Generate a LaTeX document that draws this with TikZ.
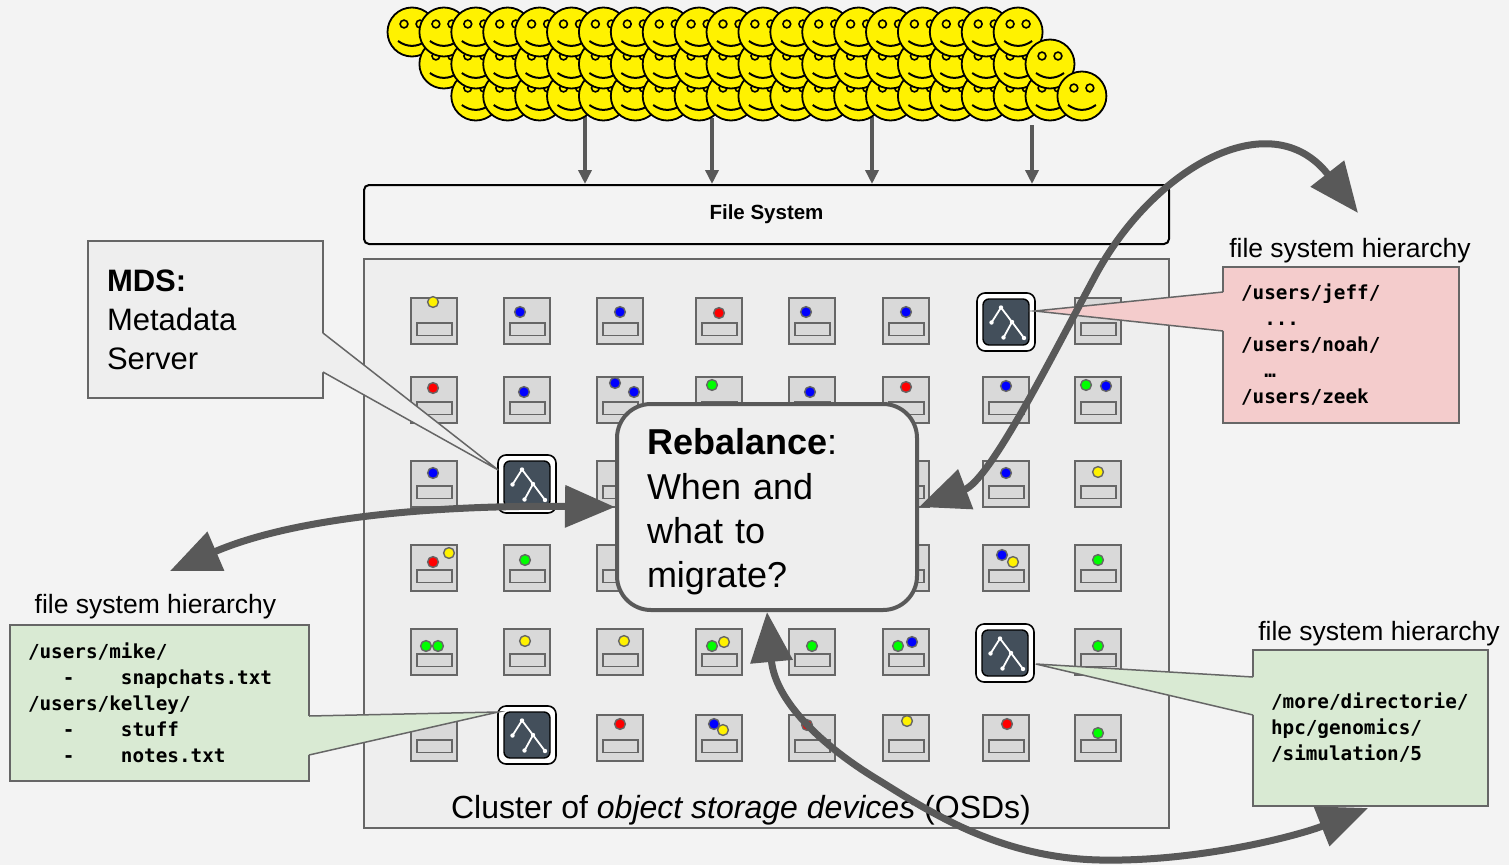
\documentclass[tikz,border=0pt]{standalone}
\usepackage{fontspec}
\usepackage{tikz}
\usepackage{xcolor}
\usetikzlibrary{arrows.meta,positioning,calc}

\setmainfont{Liberation Sans}
\newfontfamily\pathfont{DejaVu Sans Mono}
\newcommand{\fsz}[2]{\fontsize{#1}{#2}\selectfont}

\definecolor{bggray}{HTML}{F3F3F3}
\definecolor{panel}{HTML}{EEEEEE}
\definecolor{edge}{HTML}{666666}
\definecolor{disk}{HTML}{D9D9D9}
\definecolor{slate}{HTML}{434F5B}
\definecolor{pinkbox}{HTML}{F4CCCC}
\definecolor{greenbox}{HTML}{D9EAD3}
\definecolor{arrowgray}{HTML}{595959}

\begin{document}
\begin{tikzpicture}[x=1pt,y=-1pt,
  face/.style={circle,draw,line width=1.8pt,fill=yellow,minimum size=49pt,inner sep=0pt},
  osd/.style={draw=edge,line width=1.5pt,fill=disk,minimum size=46pt,inner sep=0pt},
  slot/.style={draw=edge,line width=1.5pt,fill=disk},
  dot/.style={draw=edge,line width=1.4pt},
  mds/.style={draw,line width=1.6pt,fill=white,rounded corners=8pt,minimum size=58pt,inner sep=0pt},
  note/.style={draw=edge,line width=1.5pt,align=left,anchor=north west,inner ysep=0pt,outer sep=0pt},
  hier/.style={font=\fsz{26.5}{30},inner sep=0pt},
  flow/.style={arrowgray,line width=3.8pt,-{Triangle[length=14pt,width=13pt]}},
  bigarrow/.style={arrowgray,line width=7pt,{Triangle[length=50pt,width=41pt]}-{Triangle[length=50pt,width=41pt]}}]

  \fill[bggray] (0,0) rectangle (1509,865);
  \useasboundingbox (0,0) rectangle (1509,865);

  % cluster of OSDs
  \node[draw=edge,line width=1.5pt,fill=panel,minimum width=805pt,minimum height=569pt] (cluster) at (766.5,543.5) {};
  \foreach \r/\y/\cols in {1/321/{1,2,3,4,5,6,8}, 2/400/{1,2,3,4,5,6,7,8}, 3/484/{1,3,6,7,8},
                           4/568/{1,2,3,6,7,8}, 5/652/{1,2,3,4,5,6,8}, 6/738/{1,3,4,5,6,7,8}}{
    \foreach \c in \cols {
      \pgfmathsetmacro{\x}{{434,527,620,719,812,906,1006,1098}[\c-1]}
      \node[osd] (d\r-\c) at (\x,\y) {};
      \draw[slot] ($(d\r-\c)+(-17,2)$) rectangle ++(35,12.5);
    }
  }
  % objects stored on each device
  \foreach \r/\c/\col/\dx/\dy in {
    1/1/yellow/-1/-19, 1/2/blue/-7/-9, 1/3/blue/0/-9, 1/4/red/0/-8, 1/5/blue/-6/-9, 1/6/blue/0/-9,
    2/1/red/-1/-12, 2/2/blue/-3/-8, 2/3/blue/-5/-17, 2/3/blue/14/-8, 2/4/green/-7/-15, 2/5/blue/-2/-8,
    2/6/red/0/-13, 2/7/blue/0/-14, 2/8/green/-12/-15, 2/8/blue/8/-14,
    3/1/blue/-1/-11, 3/7/blue/0/-11, 3/8/yellow/0/-12,
    4/1/red/-1/-6, 4/1/yellow/15/-15, 4/2/green/-2/-8, 4/7/blue/-4/-13, 4/7/yellow/7/-6, 4/8/green/0/-8,
    5/1/green/-8/-6, 5/1/green/4/-6, 5/2/yellow/-2/-11, 5/3/yellow/4/-11, 5/4/green/-7/-6, 5/4/yellow/5/-10,
    5/5/green/0/-6, 5/6/green/-8/-6, 5/6/blue/6/-10, 5/8/green/0/-6,
    6/3/red/0/-14, 6/4/blue/-5/-14, 6/4/yellow/4/-8, 6/5/red/-5/-13, 6/6/yellow/1/-17, 6/7/red/1/-14, 6/8/green/0/-5}
    \filldraw[dot,fill=\col] ($(d\r-\c)+(\dx,\dy)$) circle (5.4pt);

  % metadata servers
  \foreach \n/\x/\y in {m1/1006/322, m2/527/484, m3/1005/653, m4/527/735}{
    \node[mds] (\n) at (\x,\y) {};
    \begin{scope}[shift={(\n)}]
      \draw[fill=slate,line width=1.4pt,rounded corners=6pt] (-23,-23) rectangle (23,23);
      \draw[white,line width=1.8pt] (-14.5,0.5) -- (-5,-14.5) -- (6,0) -- (-2.5,15.5) (6,0) -- (18,16);
      \foreach \p in {(-14.5,0.5),(-5,-14.5),(6,0),(-2.5,15.5),(18,16)} \fill[white] \p circle (2.2pt);
    \end{scope}
  }

  % callouts
  \node[note,fill=panel,inner xsep=19pt,text width=197pt,minimum width=235pt,minimum height=157pt,
        font=\fsz{31}{39}] (mdsnote) at (88,241) {\textbf{MDS:}\\Metadata\\Server};
  \fill[panel] ($(mdsnote.north east)+(-1,92)$) -- ($(m2.west)+(1,-14)$) -- ($(mdsnote.north east)+(-1,131)$) -- cycle;
  \draw[edge,line width=1.5pt] ($(mdsnote.north east)+(0,92)$) -- ($(m2.west)+(1,-14)$) -- ($(mdsnote.north east)+(0,131)$);

  \node[note,fill=pinkbox,inner xsep=18pt,text width=200pt,minimum width=236pt,minimum height=156pt,
        font=\pathfont\bfseries\fsz{19.3}{26}] (jeffnote) at (1223,267)
        {/users/jeff/\\\hphantom{xx}...\\/users/noah/\\\hphantom{xx}…\\/users/zeek};
  \fill[pinkbox] ($(jeffnote.north west)+(1,25)$) -- ($(m1.east)+(-1,-11)$) -- ($(jeffnote.north west)+(1,64)$) -- cycle;
  \draw[edge,line width=1.5pt] ($(jeffnote.north west)+(0,25)$) -- ($(m1.east)+(-1,-11)$) -- ($(jeffnote.north west)+(0,64)$);
  \node[hier,above=3.4pt of jeffnote.north,xshift=9pt] (hjeff) {file system hierarchy};

  \node[note,fill=greenbox,inner xsep=18pt,text width=263pt,minimum width=299pt,minimum height=156pt,
        font=\pathfont\bfseries\fsz{19.3}{26}] (mikenote) at (10,625)
        {/users/mike/\\\hphantom{xxx}-\hphantom{xxxx}snapchats.txt\\/users/kelley/\\
         \hphantom{xxx}-\hphantom{xxxx}stuff\\\hphantom{xxx}-\hphantom{xxxx}notes.txt};
  \fill[greenbox] ($(mikenote.north east)+(-1,91)$) -- ($(m4.west)+(1,-23)$) -- ($(mikenote.north east)+(-1,130)$) -- cycle;
  \draw[edge,line width=1.5pt] ($(mikenote.north east)+(0,91)$) -- ($(m4.west)+(1,-23)$) -- ($(mikenote.north east)+(0,130)$);
  \node[hier,above=5.4pt of mikenote.north,xshift=-4pt] (hmike) {file system hierarchy};

  \node[note,fill=greenbox,inner xsep=18pt,text width=199pt,minimum width=235pt,minimum height=156pt,
        font=\pathfont\bfseries\fsz{19.3}{26}] (morenote) at (1253,650)
        {/more/directorie/\\hpc/genomics/\\/simulation/5};
  \fill[greenbox] ($(morenote.north west)+(1,27)$) -- ($(m3.east)+(1,11)$) -- ($(morenote.north west)+(1,65)$) -- cycle;
  \draw[edge,line width=1.5pt] ($(morenote.north west)+(0,27)$) -- ($(m3.east)+(1,11)$) -- ($(morenote.north west)+(0,65)$);
  \node[hier,above=3.4pt of morenote.north,xshift=8.5pt] (hmore) {file system hierarchy};

  % rebalancing question
  \node[draw=arrowgray,line width=4pt,fill=panel,rounded corners=34pt,minimum width=300pt,minimum height=206pt,
        inner xsep=30pt,text width=240pt,align=left,font=\fsz{36}{44.3}] (rb) at (767,507)
        {\rule{0pt}{36pt}\textbf{Rebalance}:\\When and\\what to\\migrate?};

  \node[draw,line width=2pt,rounded corners=5pt,fill=bggray,minimum width=805pt,minimum height=59pt,
        font=\fsz{20.5}{24}\bfseries] (fs) at (766.5,214.5) {File System};
  \node[font=\fsz{32}{36},anchor=base] (osdtext) at (741,818) {Cluster of \textit{object storage devices} (OSDs)};

  % migrations between servers
  \coordinate (hl) at (170,571);
  \coordinate (hr) at (1358,213);
  \coordinate (hb) at (1368,808);
  \draw[bigarrow] (rb.west) .. controls (450,505) and (300,515) .. (hl);
  \draw[bigarrow] (rb.east) .. controls (990,480) and (1050,360) .. (1093,280)
                            .. controls (1150,170) and (1270,100) .. (hr);
  \draw[bigarrow] (rb.south) .. controls (775,700) and (820,745) .. (880,781)
                             .. controls (930,812) and (1000,858) .. (1100,860)
                             .. controls (1200,862) and (1300,835) .. (hb);

  % clients
  \foreach \i/\x/\y in {1/585/112, 2/712/118, 3/872/117, 4/1032/125}{
    \coordinate (q\i) at (\x,\y);
    \draw[flow] (q\i) -- (q\i |- fs.north);
  }
  \foreach \d in {0,...,21}{
    \foreach \r in {3,2,1}{
      \pgfmathtruncatemacro{\k}{\d-\r+1}
      \ifnum\k>-1 \ifnum\k<20
        \node[face] (u\r-\k) at ({412+31.9*\d},{32*\r}) {};
        \begin{scope}[shift={(u\r-\k)}]
          \draw[line width=1.6pt,fill=yellow] (-8,-8) circle (3.9pt) (8,-8) circle (3.9pt);
          \draw[line width=2pt] (-14,9) .. controls (-5,15.5) and (5,15.5) .. (14,9);
        \end{scope}
      \fi\fi
    }
  }
\end{tikzpicture}
\end{document}
